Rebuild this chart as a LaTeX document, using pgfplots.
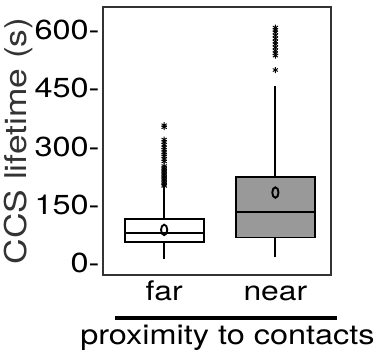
\documentclass[border=0pt]{standalone}
\usepackage{fontspec}
\setmainfont{TeX Gyre Heros}[FakeStretch=1.18]
\usepackage{pgfplots}
\pgfplotsset{compat=1.18}
\begin{document}
\begin{tikzpicture}
\useasboundingbox (0,0) rectangle (376pt,351pt);
\begin{axis}[
  at={(103pt,76pt)}, anchor=south west,
  scale only axis, width=228pt, height=268pt,
  xmin=0.45, xmax=2.5, ymin=-30, ymax=659,
  clip=false,
  axis line style={draw=black!80, line width=1.8pt},
  xtick={1,2}, xticklabels={far,near},
  ytick={0,150,300,450,600},
  /pgf/number format/assume math mode=true,
  yticklabel={\pgfmathprintnumber{\tick}-},
  tick style={draw=none},
  yticklabel style={font=\fontsize{27.5}{29}\selectfont, xshift=0pt},
  xticklabel style={font=\fontsize{27}{29}\selectfont, anchor=base, yshift=-26pt},
  ylabel={CCS lifetime (s)},
  ylabel style={at={(rel axis cs:-0.37,0.5)}, anchor=center, font=\fontsize{30}{32}\selectfont, text=black!80},
]
% far
\addplot[draw=black, line width=1.8pt] coordinates {(1,11) (1,54)};
\addplot[draw=black, line width=1.8pt] coordinates {(1,113) (1,195)};
\addplot[draw=black, fill=white, line width=1.8pt] coordinates {(0.645,54) (1.355,54) (1.355,113) (0.645,113)} -- cycle;
\addplot[draw=black, line width=1.8pt] coordinates {(0.645,77) (1.355,77)};
\addplot[only marks, mark=asterisk, mark size=3pt, mark options={black, line width=0.9pt}]
  coordinates {(1,355) (1,350) (1,318) (1,312) (1,305) (1,298) (1,292) (1,286) (1,280) (1,275) (1,268) (1,262) (1,250) (1,246) (1,242) (1,238) (1,234) (1,230) (1,226) (1,222) (1,218) (1,214) (1,210) (1,206) (1,202) (1,199)};
% near
\addplot[draw=black, line width=1.8pt] coordinates {(2,15) (2,66.5)};
\addplot[draw=black, line width=1.8pt] coordinates {(2,222) (2,455)};
\addplot[draw=black, fill=black!40, line width=1.8pt] coordinates {(1.645,66.5) (2.355,66.5) (2.355,222) (1.645,222)} -- cycle;
\addplot[draw=black, line width=1.8pt] coordinates {(1.645,132) (2.355,132)};
\addplot[only marks, mark=asterisk, mark size=3pt, mark options={black, line width=0.9pt}]
  coordinates {(2,606) (2,600) (2,594) (2,586) (2,578) (2,570) (2,563) (2,555) (2,547) (2,540) (2,534) (2,497)};
% means
\addplot[only marks, mark=o, mark size=5.2pt, mark options={xscale=0.6, line width=1.9pt, draw=black}]
  coordinates {(1,86) (2,182)};
\draw[line width=4pt, black] (rel axis cs:0.053,-0.160) -- (rel axis cs:1.026,-0.160);
\node[anchor=base, font=\fontsize{27.5}{29}\selectfont] at (rel axis cs:0.546,-0.261) {proximity to contacts};
\end{axis}
\end{tikzpicture}
\end{document}
